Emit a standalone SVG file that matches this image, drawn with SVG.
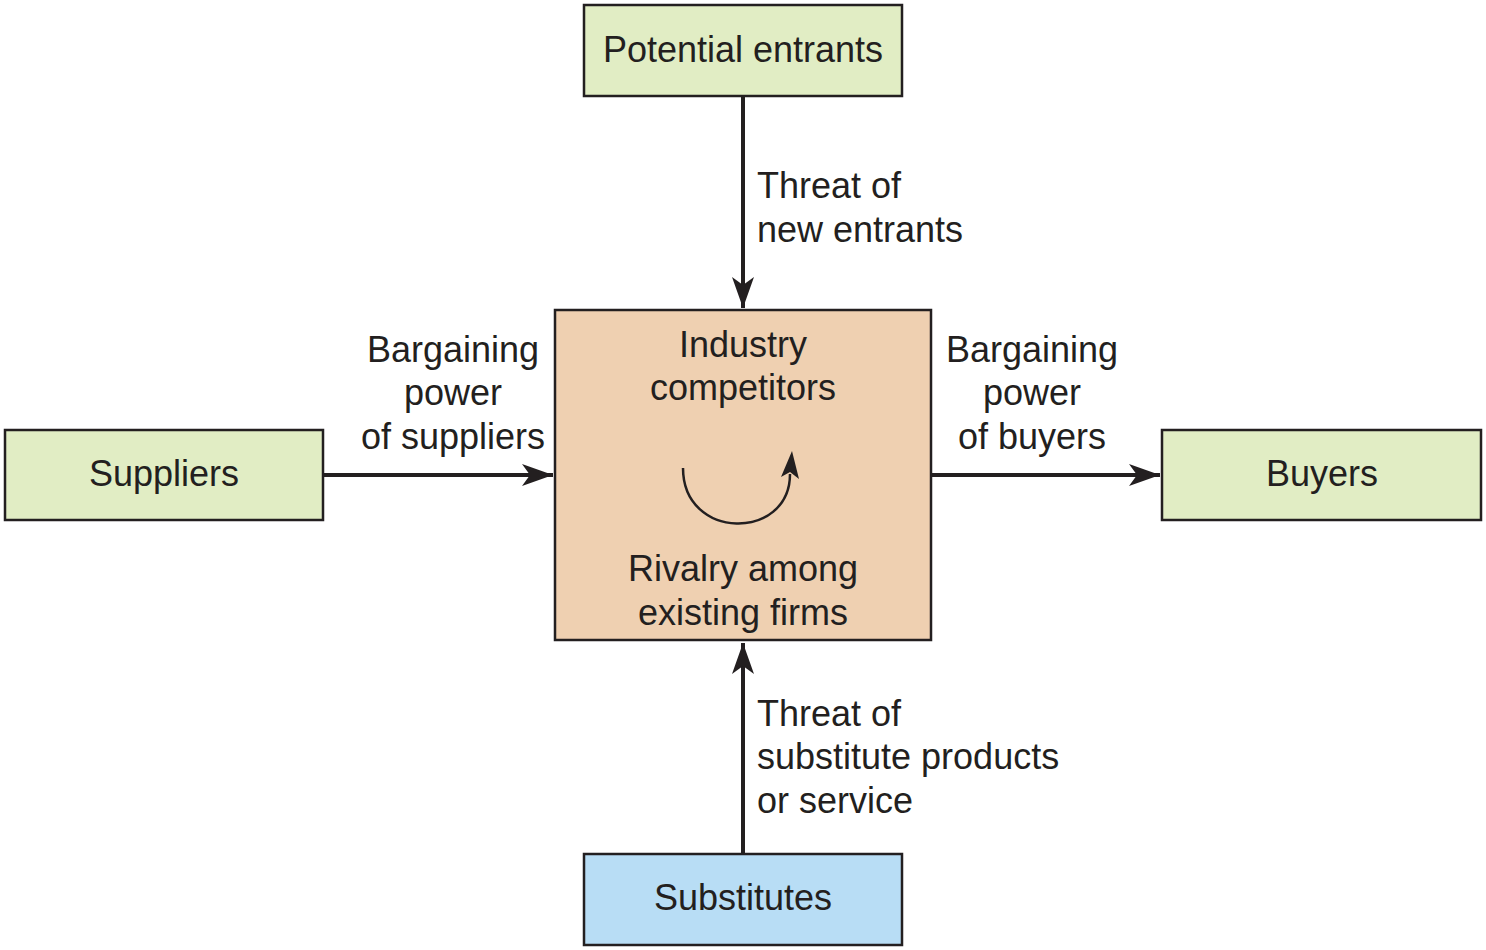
<svg xmlns="http://www.w3.org/2000/svg" width="1486" height="950" viewBox="0 0 1486 950">
<style>
.box{stroke:#231f20;stroke-width:2.5}
.green{fill:#e1edc4}
.blue{fill:#b8ddf5}
.center{fill:#efd0b1}
text{font-family:"Liberation Sans",Arial,sans-serif;font-size:36px;fill:#231f20}
.c{text-anchor:middle}
.ln{stroke:#231f20;stroke-width:4;fill:none}
</style>
<defs>
<marker id="ah" markerWidth="34" markerHeight="26" refX="31" refY="13" orient="auto" markerUnits="userSpaceOnUse">
<path d="M0,2 L31,13 L0,24 L8,13 Z" fill="#231f20"/>
</marker>
</defs>
<rect width="1486" height="950" fill="#ffffff"/>
<g id="potential-entrants">
<rect class="box green" x="584" y="5" width="318" height="91"/>
<text class="c" x="743" y="62">Potential entrants</text>
</g>
<g id="industry-competitors">
<rect class="box center" x="555" y="310" width="376" height="330"/>
<text class="c" x="743" y="357">Industry</text>
<text class="c" x="743" y="400">competitors</text>
<text class="c" x="743" y="581">Rivalry among</text>
<text class="c" x="743" y="625">existing firms</text>
</g>
<g id="suppliers">
<rect class="box green" x="5" y="430" width="318" height="90"/>
<text class="c" x="164" y="486">Suppliers</text>
</g>
<g id="buyers">
<rect class="box green" x="1162" y="430" width="319" height="90"/>
<text class="c" x="1322" y="486">Buyers</text>
</g>
<g id="substitutes">
<rect class="box blue" x="584" y="854" width="318" height="91"/>
<text class="c" x="743" y="910">Substitutes</text>
</g>
<g id="connectors">
<line class="ln" x1="743" y1="97" x2="743" y2="308" marker-end="url(#ah)"/>
<line class="ln" x1="743" y1="853" x2="743" y2="643" marker-end="url(#ah)"/>
<line class="ln" x1="324" y1="475" x2="553" y2="475" marker-end="url(#ah)"/>
<line class="ln" x1="932" y1="475" x2="1160" y2="475" marker-end="url(#ah)"/>
<path d="M683,468 C683,541 790,541 790,474" stroke="#231f20" stroke-width="2.5" fill="none"/>
<path d="M792,451 L799,479 L790,472 L781,477 Z" fill="#231f20"/>
</g>
<g id="labels">
<text x="757" y="198">Threat of</text>
<text x="757" y="242">new entrants</text>
<text class="c" x="453" y="362">Bargaining</text>
<text class="c" x="453" y="405">power</text>
<text class="c" x="453" y="449">of suppliers</text>
<text class="c" x="1032" y="362">Bargaining</text>
<text class="c" x="1032" y="405">power</text>
<text class="c" x="1032" y="449">of buyers</text>
<text x="757" y="726">Threat of</text>
<text x="757" y="769">substitute products</text>
<text x="757" y="813">or service</text>
</g>
</svg>
